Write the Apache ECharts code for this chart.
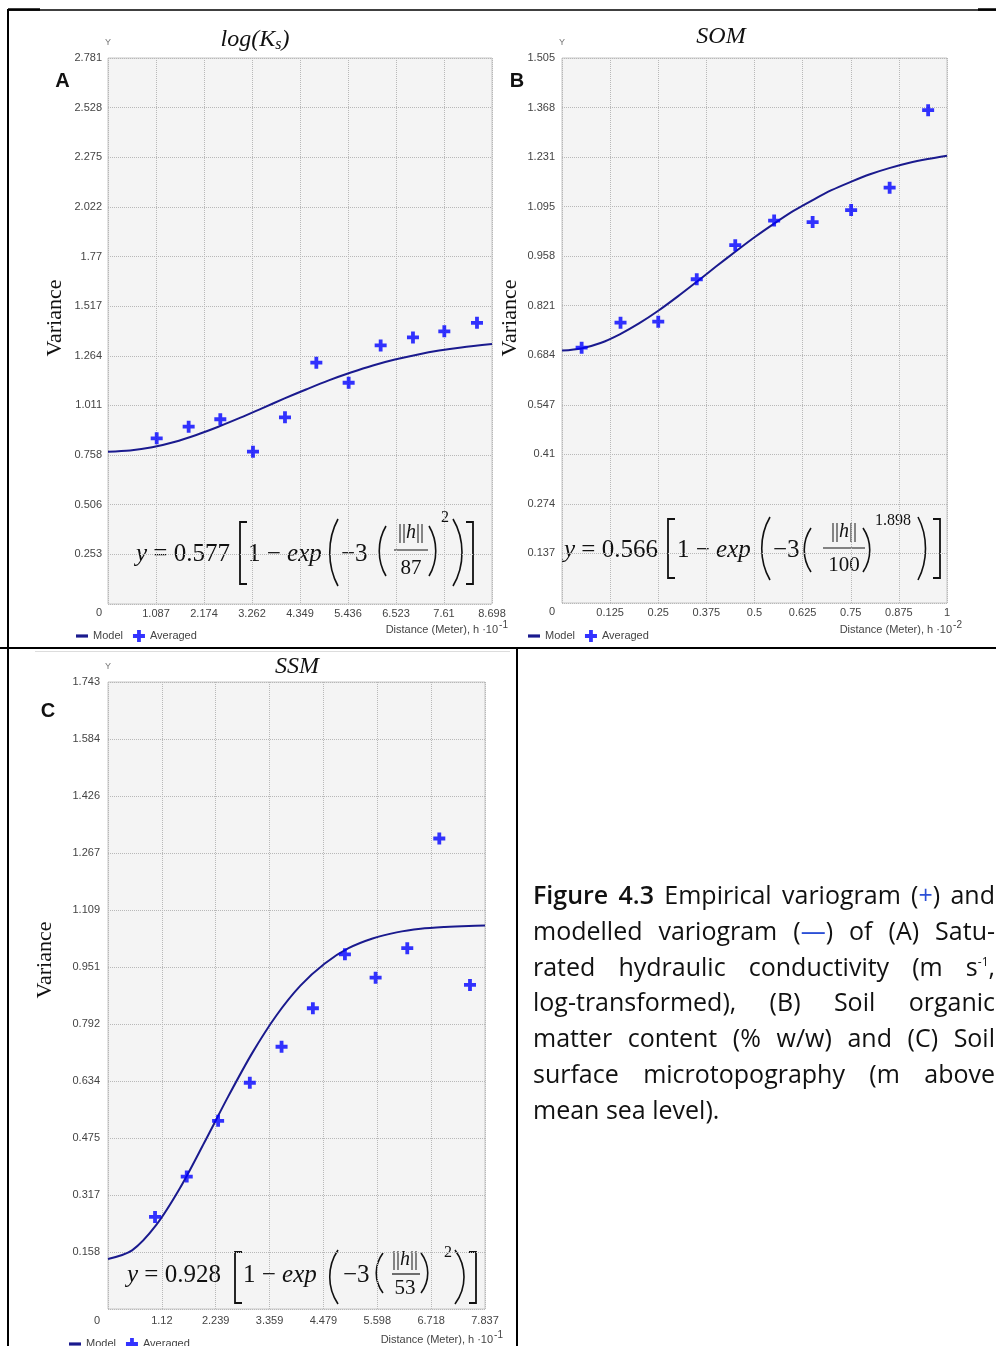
<!DOCTYPE html>
<html><head><meta charset="utf-8">
<script src="https://cdn.jsdelivr.net/npm/echarts@6/dist/echarts.min.js"></script>
<style>
html,body{margin:0;padding:0;background:#fff;}
#chart{position:absolute;left:0;top:0;width:996px;height:1346px;}
#cap{position:absolute;left:533px;top:877px;width:462px;font-family:'Open Sans','Noto Sans',sans-serif;font-size:25px;line-height:35.8px;color:#111;}
#cap .l{text-align:justify;text-align-last:justify;white-space:nowrap;}
#cap .last{text-align:left;text-align-last:left;}
#cap .bl{color:#2b4fd6;}
#cap sup{font-size:12px;vertical-align:10px;line-height:0;}
#cap b{font-weight:600;}
</style></head><body>
<div id="chart"></div>
<div id="cap">
<div class="l"><b>Figure 4.3</b> Empirical variogram (<span class="bl">+</span>) and</div>
<div class="l">modelled variogram (<span class="bl">—</span>) of (A) Satu-</div>
<div class="l">rated hydraulic conductivity (m s<sup>-1</sup>,</div>
<div class="l">log-transformed), (B) Soil organic</div>
<div class="l">matter content (% w/w) and (C) Soil</div>
<div class="l">surface microtopography (m above</div>
<div class="l last">mean sea level).</div>
</div>
<script>
// ---------------- DATA ----------------
// Panel A : log(Ks)
const xTicksA = ['0','1.087','2.174','3.262','4.349','5.436','6.523','7.61','8.698'];
const yTicksA = ['0','0.253','0.506','0.758','1.011','1.264','1.517','1.77','2.022','2.275','2.528','2.781'];
const avgXA = [1.103, 1.827, 2.544, 3.284, 4.009, 4.719, 5.451, 6.176, 6.908, 7.618, 8.358];
const avgYA = [0.844, 0.903, 0.941, 0.776, 0.951, 1.229, 1.127, 1.317, 1.358, 1.389, 1.432];
const modelXA = [0, 0.5, 1.0, 1.5, 2.0, 2.5, 3.0, 3.5, 4.0, 4.5, 5.0, 5.5, 6.0, 6.5, 7.0, 7.5, 8.0, 8.698];
const modelYA = [0.776, 0.782, 0.798, 0.825, 0.861, 0.903, 0.949, 0.998, 1.047, 1.094, 1.139, 1.179, 1.215, 1.245, 1.270, 1.291, 1.307, 1.324];

// Panel B : SOM
const xTicksB = ['0','0.125','0.25','0.375','0.5','0.625','0.75','0.875','1'];
const yTicksB = ['0','0.137','0.274','0.41','0.547','0.684','0.821','0.958','1.095','1.231','1.368','1.505'];
const avgXB = [0.051, 0.152, 0.250, 0.350, 0.450, 0.551, 0.651, 0.751, 0.851, 0.951];
const avgYB = [0.705, 0.774, 0.777, 0.894, 0.988, 1.056, 1.052, 1.085, 1.147, 1.361];
const modelXB = [0, 0.05, 0.1, 0.15, 0.2, 0.25, 0.3, 0.35, 0.4, 0.45, 0.5, 0.55, 0.6, 0.65, 0.7, 0.75, 0.8, 0.85, 0.9, 0.95, 1.0];
const modelYB = [0.697, 0.703, 0.718, 0.742, 0.772, 0.807, 0.846, 0.887, 0.929, 0.970, 1.010, 1.047, 1.082, 1.112, 1.140, 1.163, 1.184, 1.201, 1.215, 1.226, 1.235];

// Panel C : SSM
const xTicksC = ['0','1.12','2.239','3.359','4.479','5.598','6.718','7.837'];
const yTicksC = ['0','0.158','0.317','0.475','0.634','0.792','0.951','1.109','1.267','1.426','1.584','1.743'];
const avgXC = [0.978, 1.637, 2.289, 2.948, 3.608, 4.259, 4.925, 5.563, 6.221, 6.887, 7.525];
const avgYC = [0.256, 0.368, 0.523, 0.629, 0.729, 0.836, 0.986, 0.921, 1.003, 1.308, 0.901];
const modelXC = [0, 0.5, 1.0, 1.5, 2.0, 2.5, 3.0, 3.5, 4.0, 4.5, 5.0, 5.5, 6.0, 6.5, 7.0, 7.5, 7.837];
const modelYC = [0.139, 0.163, 0.233, 0.337, 0.462, 0.591, 0.712, 0.816, 0.899, 0.960, 1.003, 1.030, 1.047, 1.057, 1.062, 1.065, 1.066];

// ---------------- STYLE ----------------
const TICKF = '"Liberation Sans", Arial, sans-serif';
const SERIF = '"Liberation Serif", "Times New Roman", serif';
const INK = '#111';
const TICKC = '#444';
const LINEC = '#1a1a8e';
const PLUSC = '#0000ff';
const PLUS = 'path://M4.1,0H7.9V4.1H12V7.9H7.9V12H4.1V7.9H0V4.1H4.1Z';
const DASH = 'path://M0,0H12V3.2H0Z';

const zip = (a, b) => a.map((v, i) => [v, b[i]]);
function fmt(labels, step, mode) {
  return function (v) {
    const i = Math.round(v / step);
    const s = labels[i];
    if (s == null) return '';
    if (i === 0 && mode === 'hide') return '';
    if (i === 0 && mode === 'shift') return '{z|' + s + '}';
    return s;
  };
}

const panels = [
  {grid:{left:108, top:58, width:384, height:546}, xt:xTicksA, yt:yTicksA, xmax:8.698, ymax:2.781, xn:8,
   ax:avgXA, ay:avgYA, mx:modelXA, my:modelYA, xm:4, ym:6, zpad:18},
  {grid:{left:562, top:58, width:385, height:545}, xt:xTicksB, yt:yTicksB, xmax:1, ymax:1.505, xn:8,
   ax:avgXB, ay:avgYB, mx:modelXB, my:modelYB, xm:4, ym:7, zpad:18},
  {grid:{left:108, top:682, width:377, height:627}, xt:xTicksC, yt:yTicksC, xmax:7.837, ymax:1.743, xn:7,
   ax:avgXC, ay:avgYC, mx:modelXC, my:modelYC, xm:6, ym:8, zpad:24}
];

const grid = [], xAxis = [], yAxis = [], series = [];
const split = {show:true, lineStyle:{color:'#b8b8b8', width:1, type:[1,1]}};
panels.forEach((p, k) => {
  grid.push(Object.assign({show:true, backgroundColor:'#f4f4f4', borderColor:'#c6c6c6', borderWidth:1}, p.grid));
  const xs = p.xmax / p.xn, ys = p.ymax / 11;
  xAxis.push({gridIndex:k, type:'value', min:0, max:p.xmax, interval:xs,
    axisLine:{show:false}, axisTick:{show:false}, splitLine:split,
    axisLabel:{formatter:fmt(p.xt, xs, 'hide'), fontSize:11, color:TICKC, fontFamily:TICKF, margin:p.xm}});
  yAxis.push({gridIndex:k, type:'value', min:0, max:p.ymax, interval:ys,
    name:'Y', nameLocation:'end', nameGap:11, nameTextStyle:{fontSize:9, color:'#777', fontFamily:TICKF},
    axisLine:{show:false}, axisTick:{show:false}, splitLine:split,
    axisLabel:{formatter:fmt(p.yt, ys, 'shift'), fontSize:11, color:TICKC, fontFamily:TICKF, margin:p.ym,
      rich:{z:{fontSize:11, color:TICKC, fontFamily:TICKF, padding:[p.zpad,0,0,0]}}}});
  series.push({type:'line', name:'Model', xAxisIndex:k, yAxisIndex:k, data:zip(p.mx, p.my),
    smooth:0.3, symbol:'none', lineStyle:{color:LINEC, width:2}, itemStyle:{color:LINEC}, z:2, silent:true});
  series.push({type:'scatter', name:'Averaged', xAxisIndex:k, yAxisIndex:k, data:zip(p.ax, p.ay),
    symbol:PLUS, symbolSize:12, itemStyle:{color:PLUSC}, z:3, silent:true});
});

const legendBase = {data:[{name:'Model', icon:DASH, itemStyle:{color:LINEC}}, {name:'Averaged', icon:PLUS}],
  itemWidth:12, itemHeight:12, itemGap:10, symbolKeepAspect:true,
  selectedMode:false, textStyle:{fontSize:11, color:TICKC, fontFamily:TICKF}};
const legend = [
  Object.assign({left:71, top:625}, legendBase),
  Object.assign({left:523, top:625}, legendBase),
  Object.assign({left:64, top:1333}, legendBase)
];

// ---------------- GRAPHIC (annotations) ----------------
const G = [];
function txt(x, y, text, opt) {
  G.push({type:'text', x:x, y:y, rotation:opt.rot || 0, silent:true,
    style:Object.assign({text:text, fill:INK, align:'left', verticalAlign:'middle'}, opt.style)});
}
function hline(x1, y1, x2, y2, w, c) {
  G.push({type:'line', silent:true, shape:{x1:x1, y1:y1, x2:x2, y2:y2}, style:{stroke:c || '#000', lineWidth:w}});
}
function bracket(x, t, b, w, right) {
  const pts = right ? [[x - w, t], [x, t], [x, b], [x - w, b]] : [[x + w, t], [x, t], [x, b], [x + w, b]];
  G.push({type:'polyline', silent:true, shape:{points:pts}, style:{stroke:INK, lineWidth:1.8, fill:null}});
}
function paren(x1, x2, t, b, right) {
  const h = b - t;
  let shape;
  if (!right) shape = {x1:x2, y1:t, x2:x2, y2:b, cpx1:x1 - 1, cpy1:t + h * 0.3, cpx2:x1 - 1, cpy2:t + h * 0.7};
  else shape = {x1:x1, y1:t, x2:x1, y2:b, cpx1:x2 + 1, cpy1:t + h * 0.3, cpx2:x2 + 1, cpy2:t + h * 0.7};
  G.push({type:'bezierCurve', silent:true, shape:shape, style:{stroke:INK, lineWidth:1.6, fill:null}});
}
const EQ = {fontFamily:SERIF, fontSize:25};
const EQR = {i:{fontFamily:SERIF, fontSize:25, fontStyle:'italic', fill:INK}, n:{fontFamily:SERIF, fontSize:25, fill:INK}};
const FR = {i:{fontFamily:SERIF, fontSize:20, fontStyle:'italic', fill:INK}, n:{fontFamily:SERIF, fontSize:20, fill:INK}};
function equation(e) {
  txt(e.t1, e.y, '{i|y}{n| = ' + e.coef + '}', {style:Object.assign({rich:EQR}, EQ)});
  bracket(e.b1, e.bt, e.bb, 7, false);
  txt(e.t2, e.y, '{n|1 − }{i|exp}', {style:Object.assign({rich:EQR}, EQ)});
  paren(e.p1[0], e.p1[1], e.pt, e.pb, false);
  txt(e.t3, e.y, '{n|−3}', {style:Object.assign({rich:EQR}, EQ)});
  paren(e.p2[0], e.p2[1], e.mt, e.mb, false);
  txt(e.fc, e.ny, '{n|||}{i|h}{n|||}', {style:{rich:FR, align:'center', fontFamily:SERIF, fontSize:20}});
  hline(e.fl[0], e.ly, e.fl[1], e.ly, 1.2, INK);
  txt(e.fc, e.dy, e.den, {style:{fontFamily:SERIF, fontSize:21, align:'center'}});
  paren(e.p3[0], e.p3[1], e.mt, e.mb, true);
  txt(e.sx, e.sy, e.exp, {style:{fontFamily:SERIF, fontSize:16}});
  paren(e.p4[0], e.p4[1], e.pt, e.pb, true);
  bracket(e.b2, e.bt, e.bb, 7, true);
}
equation({coef:'0.577', den:'87', exp:'2', y:554, t1:136, b1:240, bt:522, bb:584, t2:248, p1:[328,338], pt:519, pb:586,
  t3:341, p2:[378,386], mt:526, mb:576, fc:411, ny:533, fl:[394,428], ly:550, dy:568, p3:[429,437], sx:441, sy:518,
  p4:[453,464], b2:473});
equation({coef:'0.566', den:'100', exp:'1.898', y:550, t1:564, b1:668, bt:519, bb:578, t2:677, p1:[760,770], pt:517, pb:580,
  t3:773, p2:[803,811], mt:528, mb:572, fc:844, ny:532, fl:[823,865], ly:548, dy:565, p3:[863,871], sx:875, sy:521,
  p4:[918,927], b2:940});
equation({coef:'0.928', den:'53', exp:'2', y:1275, t1:127, b1:235, bt:1252, bb:1303, t2:243, p1:[328,338], pt:1250, pb:1304,
  t3:343, p2:[375,383], mt:1253, mb:1293, fc:405, ny:1260, fl:[392,420], ly:1274, dy:1288, p3:[421,429], sx:444, sy:1253,
  p4:[455,466], b2:476});

// titles
const TR = {i:{fontFamily:SERIF, fontSize:24, fontStyle:'italic', fill:INK}, s:{fontFamily:SERIF, fontSize:16, fontStyle:'italic', fill:INK, padding:[10,0,0,0]}};
txt(255, 40, '{i|log(K}{s|s}{i|)}', {style:{rich:TR, align:'center'}});
txt(721, 37, '{i|SOM}', {style:{rich:TR, align:'center'}});
txt(297, 667, '{i|SSM}', {style:{rich:TR, align:'center'}});
// panel letters
const LET = {fontFamily:'"Liberation Sans", Arial, sans-serif', fontSize:20, fontWeight:'bold', align:'center'};
txt(62.5, 81, 'A', {style:LET});
txt(517, 81, 'B', {style:LET});
txt(48, 711, 'C', {style:LET});
// Variance
const VAR = {fontFamily:SERIF, fontSize:22, align:'center'};
txt(55, 318, 'Variance', {rot:Math.PI / 2, style:VAR});
txt(510, 318, 'Variance', {rot:Math.PI / 2, style:VAR});
txt(45, 960, 'Variance', {rot:Math.PI / 2, style:VAR});
// distance labels
const DR = {t:{fontFamily:TICKF, fontSize:11, fill:TICKC}, s:{fontFamily:TICKF, fontSize:10, fill:TICKC, padding:[0,0,9,1]}};
txt(508, 630, '{t|Distance (Meter), h ·10}{s|-1}', {style:{rich:DR, align:'right'}});
txt(962, 630, '{t|Distance (Meter), h ·10}{s|-2}', {style:{rich:DR, align:'right'}});
txt(503, 1340, '{t|Distance (Meter), h ·10}{s|-1}', {style:{rich:DR, align:'right'}});
// frame lines
hline(8, 10, 996, 10, 1.5);
hline(8, 9.5, 40, 9.5, 2.5);
hline(978, 9.5, 996, 9.5, 2.5);
hline(8, 9, 8, 1346, 2);
hline(0, 648, 996, 648, 2);
hline(517, 648, 517, 1346, 2);
hline(35, 651.5, 510, 651.5, 1, '#dddddd');

const chart = echarts.init(document.getElementById('chart'), null, {renderer:'canvas'});
chart.setOption({
  animation:false,
  backgroundColor:'#ffffff',
  grid:grid, xAxis:xAxis, yAxis:yAxis, series:series, legend:legend,
  graphic:{elements:G}
});
</script>
</body></html>
